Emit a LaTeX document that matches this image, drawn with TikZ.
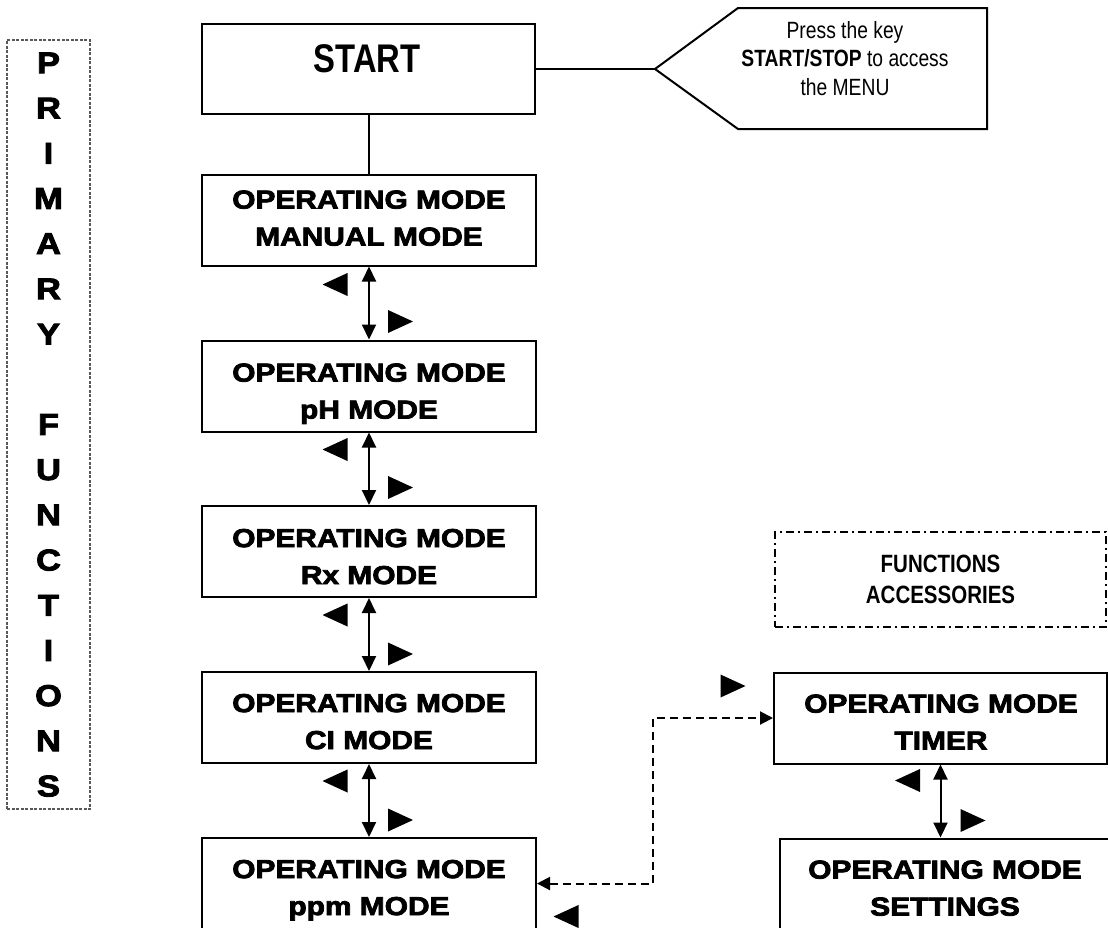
\documentclass[tikz,border=0pt]{standalone}
\usepackage{fontspec}
\setmainfont{Liberation Sans}
\newfontfamily\heavyfont{Liberation Sans Bold}[FakeBold=3,FakeStretch=1.15]
\newfontfamily\narrowfont{Liberation Sans}[FakeStretch=0.82]
\usetikzlibrary{arrows.meta}
\tikzset{
  opbox/.style={draw, line width=2pt, inner sep=0pt, minimum width=334pt, minimum height=91pt},
  optxt/.style={font=\heavyfont\fontsize{26}{37}\selectfont, align=center, inner sep=0pt, text depth=0pt},
  conn/.style={line width=2pt},
  dbl/.style={line width=2pt, {Triangle[width=14pt,length=15pt]}-{Triangle[width=14pt,length=15pt]}},
  dconn/.style={line width=2pt, dash pattern=on 8pt off 5pt, {Triangle[width=13pt,length=13pt]}-{Triangle[width=13pt,length=13pt]}},
  ltri/.pic={\fill (-12.5,0) -- (12.5,-11.5) -- (12.5,11.5) -- cycle;},
  rtri/.pic={\fill (12.5,0) -- (-12.5,-11.5) -- (-12.5,11.5) -- cycle;},
}
\begin{document}
\begin{tikzpicture}[x=1pt,y=-1pt]
\useasboundingbox (0,0) rectangle (1108,927);
\fill[white] (0,0) rectangle (1108,927);
\clip (0,0) rectangle (1108,927);

% primary functions label
\node[draw=black!65, line width=1.2pt, dash pattern=on 3pt off 1.5pt, minimum width=83pt, minimum height=769pt, inner sep=0pt,
      font=\heavyfont\fontsize{30}{45.2}\selectfont, align=center, text depth=0pt] (primary) at (48.5,424.5)
      {P\\R\\I\\M\\A\\R\\Y\\\mbox{}\\F\\U\\N\\C\\T\\I\\O\\N\\S};

% start
\node[opbox, minimum width=333pt, minimum height=90pt] (start) at (368.5,69) {};
\node[font=\narrowfont\bfseries\fontsize{40}{40}\selectfont, inner sep=0pt] (starttxt) at (367,59) {START};

% callout
\coordinate (tip) at (655,69);
\draw[conn] (tip) -- (738,8) -- (987,8) -- (987,129) -- (738,129) -- cycle;
\node[font=\narrowfont\fontsize{23.5}{28.5}\selectfont, align=center, inner sep=0pt] (note) at (845,58.5)
  {Press the key\\\textbf{START/STOP} to access\\the MENU};
\draw[conn] (start.east) -- (tip);

% left column boxes
\node[opbox] (manual) at (369,220) {};
\node[optxt] (manualtxt) at (369,218) {OPERATING MODE\\MANUAL MODE};
\node[opbox] (ph) at (369,386) {};
\node[optxt] (phtxt) at (369,391) {OPERATING MODE\\pH MODE};
\node[opbox] (rx) at (369,551.5) {};
\node[optxt] (rxtxt) at (369,556.5) {OPERATING MODE\\Rx MODE};
\node[opbox] (cl) at (369,717.5) {};
\node[optxt] (cltxt) at (369,721.5) {OPERATING MODE\\CI MODE};
\node[opbox] (ppm) at (369,883.5) {};
\node[optxt] (ppmtxt) at (369,887.5) {OPERATING MODE\\ppm MODE};

% accessories
\node[draw, line width=2pt, dash pattern=on 8pt off 4pt on 2pt off 4pt, minimum width=331pt, minimum height=95pt, inner sep=0pt,
      font=\narrowfont\bfseries\fontsize{25}{31}\selectfont, align=center, text depth=0pt] (acc) at (940.5,579.5)
      {FUNCTIONS\\ACCESSORIES};
\node[opbox, minimum width=333pt] (timer) at (940.5,718) {};
\node[optxt] (timertxt) at (941,722) {OPERATING MODE\\TIMER};
\node[opbox, minimum width=332pt] (settings) at (946,884) {};
\node[optxt] (settingstxt) at (945,888) {OPERATING MODE\\SETTINGS};

% connectors
\draw[conn] (start.south) -- (start.south |- manual.north);
\draw[dbl] (manual.south) -- (manual.south |- ph.north);
\draw[dbl] (ph.south) -- (ph.south |- rx.north);
\draw[dbl] (rx.south) -- (rx.south |- cl.north);
\draw[dbl] (cl.south) -- (cl.south |- ppm.north);
\draw[dbl] (timer.south) -- (timer.south |- settings.north);
\draw[dconn] (ppm.east) -- ++(116,0) |- (timer.west);

% direction triangles
\pic at (335,284.5) {ltri};  \pic at (400.5,321.5) {rtri};
\pic at (335,449.5) {ltri};  \pic at (400.5,487.5) {rtri};
\pic at (335,615) {ltri};    \pic at (400.5,654) {rtri};
\pic at (335,781) {ltri};    \pic at (400.5,820) {rtri};
\pic at (907.5,780.5) {ltri}; \pic at (973,820.5) {rtri};
\pic at (733,686) {rtri};
\pic at (566,916.5) {ltri};
\end{tikzpicture}
\end{document}
